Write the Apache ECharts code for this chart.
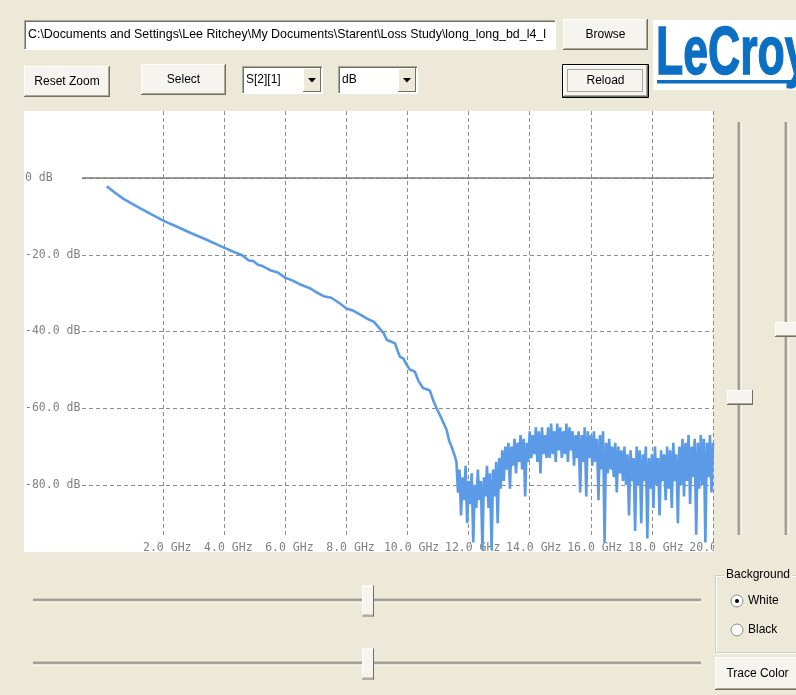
<!DOCTYPE html>
<html><head><meta charset="utf-8">
<script src="https://cdn.jsdelivr.net/npm/echarts@6/dist/echarts.min.js"></script>
<style>html,body{margin:0;padding:0;background:#ECE9D8;}#c{width:796px;height:695px;}</style>
</head><body><div id="c"></div>
<script>
// ---------- data ----------
const yTickValues = [0, -20, -40, -60, -80];
const xTickValues = [2, 4, 6, 8, 10, 12, 14, 16, 18, 20];
const smoothFreq = [0.15, 0.4, 0.7, 1.0, 1.25, 1.6, 2.0, 2.4, 2.9, 3.4, 3.95, 4.3, 4.6, 4.8, 4.95, 5.1, 5.27, 5.5, 5.75, 6.0, 6.2, 6.45, 6.8, 7.0, 7.25, 7.5, 7.75, 8.0, 8.2, 8.45, 8.66, 8.9, 9.1, 9.22, 9.32, 9.45, 9.59, 9.68, 9.75, 9.86, 9.95, 10.08, 10.16, 10.24, 10.35, 10.51, 10.6, 10.73, 10.85, 10.95, 11.1, 11.28, 11.36, 11.44, 11.55];
const smoothDb = [-2.1, -3.7, -5.4, -6.8, -7.9, -9.4, -11.1, -12.5, -14.3, -16.0, -18.0, -19.2, -20.2, -21.5, -21.6, -22.6, -23.0, -24.0, -24.6, -26.0, -26.6, -27.6, -28.7, -29.7, -30.8, -31.2, -32.5, -34.0, -34.5, -35.6, -36.6, -37.5, -39.4, -40.5, -42.2, -42.6, -43.1, -45.2, -46.6, -47.0, -48.4, -50.0, -50.2, -50.5, -52.8, -54.8, -55.0, -55.4, -58.2, -60.0, -62.5, -65.7, -68.5, -70.0, -72.6];
const noiseStartFreq = 11.6;
const noiseStepFreq = 0.05;
const noiseDb = [
  -74, -82, -76, -88, -78, -84, -75, -90, -79, -85,
  -77, -95, -80, -86, -76, -84, -79, -97, -78, -83,
  -75, -86, -77, -97, -76, -83, -74, -90, -73, -81,
  -71, -79, -70, -76, -69, -81, -70, -75, -68, -77,
  -69, -74, -67, -76, -68, -83, -69, -74, -66, -73,
  -67, -72, -65, -74, -66, -77, -65, -72, -67, -73,
  -65, -73, -64, -72, -66, -74, -64, -71, -65, -73,
  -66, -72, -64, -74, -65, -71, -66, -75, -67, -73,
  -66, -82, -67, -74, -65, -83, -66, -73, -67, -75,
  -66, -74, -68, -84, -67, -76, -66, -95, -69, -77,
  -68, -76, -70, -78, -69, -82, -70, -77, -71, -79,
  -70, -80, -72, -88, -71, -79, -73, -92, -70, -80,
  -71, -90, -72, -79, -70, -94, -73, -81, -72, -86,
  -70, -80, -73, -88, -71, -79, -72, -84, -70, -81,
  -71, -86, -69, -79, -72, -90, -70, -80, -68, -83,
  -69, -79, -67, -85, -70, -78, -68, -93, -69, -81,
  -67, -80, -68, -95, -69, -78, -67, -82, -69
];
const pathText = 'C:\\Documents and Settings\\Lee Ritchey\\My Documents\\Starent\\Loss Study\\long_long_bd_l4_loss';

const traceData = [];
smoothFreq.forEach((f, i) => traceData.push([f, smoothDb[i]]));
noiseDb.forEach((v, i) => traceData.push([+(noiseStartFreq + i * noiseStepFreq).toFixed(2), v]));

// ---------- UI helpers ----------
const UI_FONT = '12px "Liberation Sans", Arial, sans-serif';
const G = [];
function rect(x, y, w, h, fill, stroke, z) {
  G.push({type: 'rect', z: z || 20, shape: {x, y, width: w, height: h}, style: {fill: fill || 'none', stroke: stroke || null, lineWidth: 1}});
}
function ln(x1, y1, x2, y2, c, w, dash, z) {
  G.push({type: 'line', z: z || 21, shape: {x1, y1, x2, y2}, style: {stroke: c, lineWidth: w || 1, lineDash: dash || null}});
}
function txt(x, y, s, align, opts) {
  opts = opts || {};
  const st = {text: s, x: 0, y: 0, font: opts.font || UI_FONT, fill: opts.fill || '#000',
    align: align || 'left', verticalAlign: 'middle', textAlign: align || 'left', textVerticalAlign: 'middle'};
  if (opts.width) { st.width = opts.width; st.overflow = 'truncate'; st.ellipsis = ''; }
  if (opts.bg) { st.backgroundColor = opts.bg; st.padding = [0, 2]; }
  if (opts.stroke) { st.stroke = opts.stroke; st.lineWidth = opts.lineWidth || 1; }
  G.push({type: 'text', z: opts.z || 30, x, y, scaleX: opts.scaleX || 1, style: st});
}
function button(x, y, w, h, label, isDefault) {
  if (isDefault) { rect(x - 0.5, y - 0.5, w + 1, h + 1, null, '#000'); }
  rect(x, y, w, h, '#f5f4ef');
  ln(x, y + 0.5, x + w, y + 0.5, '#ffffff');
  ln(x + 0.5, y, x + 0.5, y + h, '#ffffff');
  ln(x, y + h - 0.5, x + w, y + h - 0.5, '#716f64');
  ln(x + w - 0.5, y, x + w - 0.5, y + h, '#716f64');
  ln(x + 1, y + h - 1.5, x + w - 1, y + h - 1.5, '#aca899');
  ln(x + w - 1.5, y + 1, x + w - 1.5, y + h - 1, '#aca899');
  if (isDefault) { rect(x + 4.5, y + 4.5, w - 10, h - 10, null, '#555'); G[G.length - 1].style.lineDash = [1, 1]; }
  txt(x + w / 2, y + h / 2, label, 'center');
}
function sunken(x, y, w, h) {
  rect(x, y, w, h, '#ffffff');
  ln(x, y + 0.5, x + w, y + 0.5, '#aca899');
  ln(x + 0.5, y, x + 0.5, y + h, '#aca899');
  ln(x + 1, y + 1.5, x + w - 1, y + 1.5, '#716f64');
  ln(x + 1.5, y + 1, x + 1.5, y + h - 1, '#716f64');
  ln(x, y + h - 0.5, x + w, y + h - 0.5, '#ffffff');
  ln(x + w - 0.5, y, x + w - 0.5, y + h, '#ffffff');
}
function combo(x, y, w, h, label) {
  sunken(x, y, w, h);
  const bx = x + w - 20, by = y + 2, bw = 18, bh = h - 4;
  rect(bx, by, bw, bh, '#ece9d8');
  ln(bx, by + 0.5, bx + bw, by + 0.5, '#ffffff');
  ln(bx + 0.5, by, bx + 0.5, by + bh, '#ffffff');
  ln(bx, by + bh - 0.5, bx + bw, by + bh - 0.5, '#716f64');
  ln(bx + bw - 0.5, by, bx + bw - 0.5, by + bh, '#716f64');
  G.push({type: 'polygon', z: 25, shape: {points: [[bx + 5, by + bh / 2 - 2], [bx + 13, by + bh / 2 - 2], [bx + 9, by + bh / 2 + 2.5]]}, style: {fill: '#000'}});
  txt(x + 4, y + h / 2, label, 'left');
}
function hSlider(x1, x2, y, thumbX) {
  ln(x1, y - 1.5, x2, y - 1.5, '#aca899');
  ln(x1, y - 0.5, x2, y - 0.5, '#716f64');
  ln(x1, y + 0.5, x2, y + 0.5, '#9d9a8c');
  ln(x1, y + 1.5, x2, y + 1.5, '#ffffff');
  const tw = 12, th = 31, tx = thumbX, ty = y - 15;
  rect(tx, ty, tw, th, '#f5f4ef', null, 22);
  ln(tx, ty + 0.5, tx + tw, ty + 0.5, '#ffffff', 1, null, 23);
  ln(tx + 0.5, ty, tx + 0.5, ty + th, '#ffffff', 1, null, 23);
  ln(tx, ty + th - 0.5, tx + tw, ty + th - 0.5, '#716f64', 1, null, 23);
  ln(tx + tw - 0.5, ty, tx + tw - 0.5, ty + th, '#716f64', 1, null, 23);
  ln(tx + 1, ty + th - 1.5, tx + tw - 1, ty + th - 1.5, '#aca899', 1, null, 23);
}
function vSlider(x, y1, y2, thumbY, tx, tw) {
  ln(x - 1.5, y1, x - 1.5, y2, '#aca899');
  ln(x - 0.5, y1, x - 0.5, y2, '#716f64');
  ln(x + 0.5, y1, x + 0.5, y2, '#9d9a8c');
  ln(x + 1.5, y1, x + 1.5, y2, '#ffffff');
  const th = 15, ty = thumbY;
  rect(tx, ty, tw, th, '#f5f4ef', null, 22);
  ln(tx, ty + 0.5, tx + tw, ty + 0.5, '#ffffff', 1, null, 23);
  ln(tx + 0.5, ty, tx + 0.5, ty + th, '#ffffff', 1, null, 23);
  ln(tx, ty + th - 0.5, tx + tw, ty + th - 0.5, '#716f64', 1, null, 23);
  ln(tx + tw - 0.5, ty, tx + tw - 0.5, ty + th, '#716f64', 1, null, 23);
  ln(tx + 1, ty + th - 1.5, tx + tw - 1, ty + th - 1.5, '#aca899', 1, null, 23);
}
function radio(cx, cy, checked, label) {
  G.push({type: 'circle', z: 24, shape: {cx, cy, r: 6}, style: {fill: '#ffffff', stroke: '#8e8c7f', lineWidth: 1}});
  if (checked) G.push({type: 'circle', z: 25, shape: {cx, cy, r: 2}, style: {fill: '#000'}});
  txt(cx + 11, cy, label, 'left');
}

// plot panel background
rect(24, 111, 689, 441, '#ffffff', null, -5);
// hide the lower part of the vertical grid lines (label band)
rect(100, 537, 612, 15, '#ffffff', null, 1);

// top controls
sunken(24, 20, 532, 30);
txt(28, 35, pathText, 'left', {width: 525, font: '12.4px "Liberation Sans", Arial, sans-serif'});
button(563, 19, 85, 31, 'Browse');
button(24, 66, 86, 31, 'Reset Zoom');
button(141, 64, 85, 31, 'Select');
combo(242, 66, 81, 28, 'S[2][1]');
combo(338, 66, 80, 28, 'dB');
button(563, 65, 85, 32, 'Reload', true);

// logo
rect(653, 20, 143, 70, '#ffffff');
txt(656, 55, 'LeCroy', 'left', {font: 'bold 68px "Liberation Sans", Arial, sans-serif', fill: '#0b6fc4', scaleX: 0.655, stroke: '#0b6fc4', lineWidth: 1.5});
rect(657, 80, 139, 3.5, '#0b6fc4', null, 31);

// sliders
vSlider(739.5, 122, 535, 390, 727, 26);
vSlider(786.5, 122, 535, 322, 775, 22);
hSlider(33, 701, 600.5, 362);
hSlider(33, 701, 663.5, 362);

// group box
ln(715.5, 575, 715.5, 653, '#d0d0bf'); ln(716.5, 575, 716.5, 652, '#ffffff');
ln(715, 575.5, 800, 575.5, '#d0d0bf'); ln(716, 576.5, 800, 576.5, '#ffffff');
ln(715, 652.5, 800, 652.5, '#d0d0bf'); ln(716, 653.5, 800, 653.5, '#ffffff');
txt(724, 575, 'Background', 'left', {bg: '#ece9d8'});
radio(737, 601, true, 'White');
radio(737, 630, false, 'Black');
button(715, 657, 85, 33, 'Trace Color');

// clip the last x label at the panel edge
rect(714, 536, 24, 16, '#ece9d8', null, 40);
rect(738, 538, 12, 14, '#ece9d8', null, 40);

const AX_FONT = '"DejaVu Sans Mono", monospace';
const chart = echarts.init(document.getElementById('c'), null, {renderer: 'canvas'});
chart.setOption({
  backgroundColor: '#ECE9D8',
  animation: false,
  grid: {left: 82, right: 83, top: 111, bottom: 143, containLabel: false},
  xAxis: [{
    type: 'value', min: -0.66, max: 20, z: 0,
    axisLine: {show: false}, axisTick: {show: false, customValues: xTickValues},
    axisLabel: {show: false, customValues: xTickValues},
    splitLine: {show: true, lineStyle: {color: '#8c8c8c', type: [4, 3], width: 1}}
  }, {
    type: 'value', min: -0.66, max: 20, position: 'bottom', z: 1.5,
    axisLine: {show: false}, axisTick: {show: false, customValues: xTickValues},
    axisLabel: {customValues: xTickValues, inside: true, margin: -2, color: '#808080',
      fontFamily: AX_FONT, fontSize: 11.5, padding: [0, 0, 0, 8],
      formatter: v => v.toFixed(1) + ' GHz'},
    splitLine: {show: false}
  }],
  yAxis: {
    type: 'value', min: -97.5, max: 17.5,
    axisLine: {show: false}, axisTick: {show: false, customValues: yTickValues},
    axisLabel: {customValues: yTickValues, align: 'left', margin: 57, color: '#808080',
      fontFamily: AX_FONT, fontSize: 11.5,
      formatter: v => v === 0 ? '0 dB' : v.toFixed(1) + ' dB'},
    splitLine: {show: true, lineStyle: {color: '#8c8c8c', type: [4, 3], width: 1}}
  },
  series: [{
    type: 'line', data: traceData, xAxisIndex: 0, showSymbol: false, symbol: 'none', sampling: null,
    lineStyle: {color: '#5b9ae6', width: 2.6}, z: 5,
    markLine: {silent: true, symbol: 'none', label: {show: false},
      lineStyle: {color: '#7a7a7a', type: 'solid', width: 1.5},
      data: [{yAxis: 0}]}
  }],
  graphic: {elements: G}
});
</script></body></html>
